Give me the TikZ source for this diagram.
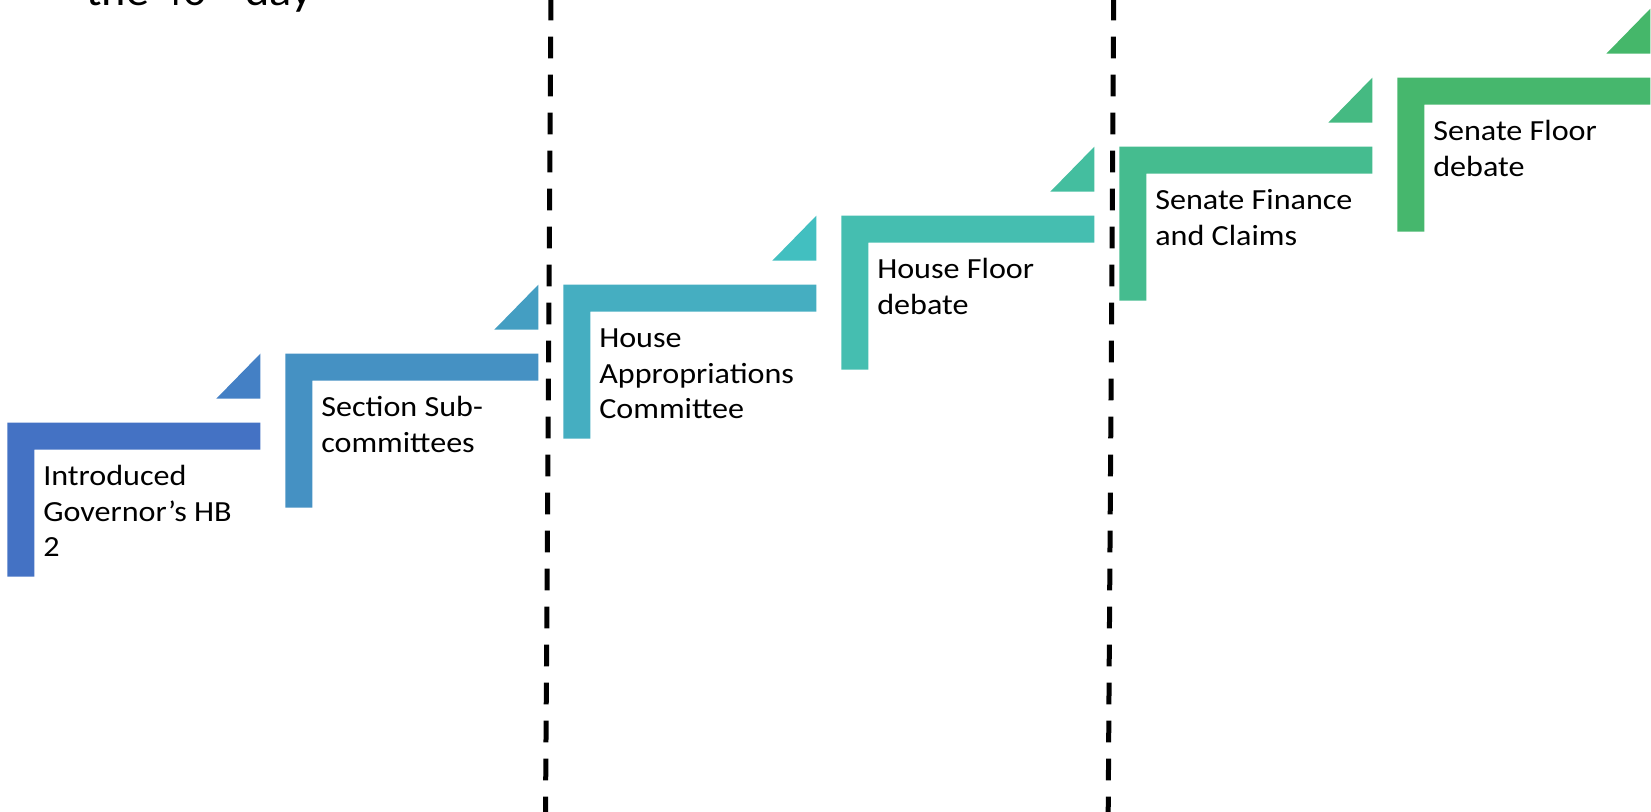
\documentclass[tikz,border=0pt]{standalone}
\usepackage{fontspec}
\setmainfont[FakeStretch=1.1]{Carlito}
\definecolor{sA}{HTML}{4472C4}
\definecolor{tA}{HTML}{4480C5}
\definecolor{sB}{HTML}{4591C3}
\definecolor{tB}{HTML}{449EC2}
\definecolor{sC}{HTML}{45AEC1}
\definecolor{tC}{HTML}{42BFC0}
\definecolor{sD}{HTML}{45BEB0}
\definecolor{tD}{HTML}{44BE9F}
\definecolor{sE}{HTML}{45BC8F}
\definecolor{tE}{HTML}{45BA82}
\definecolor{sF}{HTML}{46B76D}
\definecolor{tF}{HTML}{45B76A}
\begin{document}
\begin{tikzpicture}[x=0.5pt,y=-0.5pt,
  lbl/.style={anchor=north west, inner sep=0pt, outer sep=0pt, align=left,
              font=\fontsize{14.6}{17.65}\selectfont},
  divider/.style={line width=2.5pt, dash pattern=on 10.85pt off 8.15pt}]
\useasboundingbox (0,0) rectangle (1651,812);
\node[anchor=base west, inner sep=0pt, font=\fontsize{21}{25}\selectfont] (title) at (86,6) {the 40\textsuperscript{th} day};
\foreach \i/\c/\t/\txt in {
    0/sA/tA/{Introduced\\Governor’s HB\\2},
    1/sB/tB/{Section Sub-\\committees},
    2/sC/tC/{House\\Appropriations\\Committee},
    3/sD/tD/{House Floor\\debate},
    4/sE/tE/{Senate Finance\\and Claims},
    5/sF/tF/{Senate Floor\\debate}} {
  \pgfmathsetmacro\L{7.3+278*\i}
  \pgfmathsetmacro\T{422.7-69*\i}
  \fill[\c] (\L,\T) -- ++(253,0) -- ++(0,27) -- ++(-226,0) -- ++(0,127) -- ++(-27,0) -- cycle;
  \fill[\t] (\L+253,\T-24) -- ++(-44,0) -- ++(44,-45) -- cycle;
  \node[lbl] (n\i) at (\L+36,\T+38.5) {\strut\txt};
}
\coordinate (d1t) at (551,-1.3);
\coordinate (d1b) at (545.5,813);
\coordinate (d2t) at (1113.7,-1.3);
\coordinate (d2b) at (1108.2,813);
\draw[divider] (d1t) -- (d1b);
\draw[divider] (d2t) -- (d2b);
\end{tikzpicture}
\end{document}
